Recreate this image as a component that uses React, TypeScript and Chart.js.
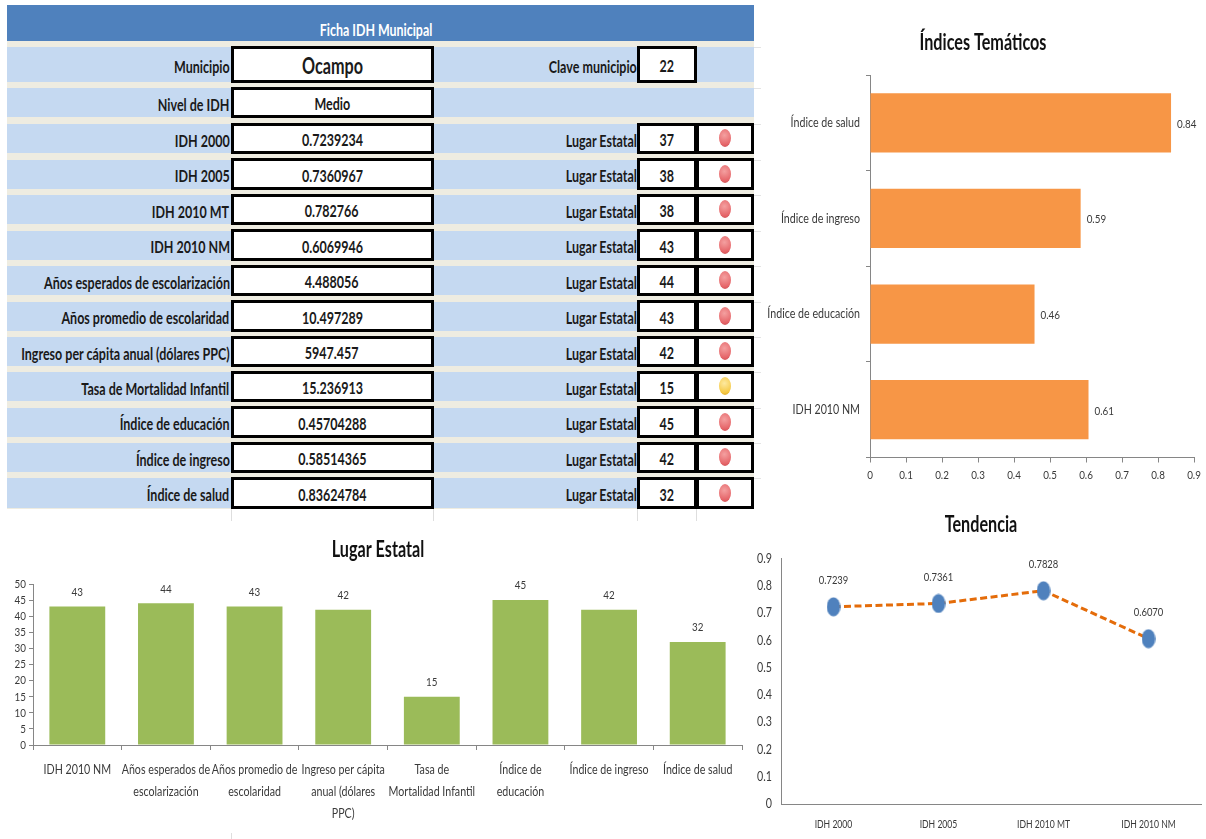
import React, { useEffect, useRef } from "react";
import { Chart, registerables } from "chart.js";

Chart.register(...registerables);

// ---------- data ----------
const tableTitle = "Ficha IDH Municipal";
const rowLabels = [
  "Municipio",
  "Nivel de IDH",
  "IDH 2000",
  "IDH 2005",
  "IDH 2010 MT",
  "IDH 2010 NM",
  "Años esperados de escolarización",
  "Años promedio de escolaridad",
  "Ingreso per cápita anual (dólares PPC)",
  "Tasa de Mortalidad Infantil",
  "Índice de educación",
  "Índice de ingreso",
  "Índice de salud",
];
const rowValues = [
  "Ocampo", "Medio", "0.7239234", "0.7360967", "0.782766", "0.6069946", "4.488056",
  "10.497289", "5947.457", "15.236913", "0.45704288", "0.58514365", "0.83624784",
];
const rowSideLabels = [
  "Clave municipio", "", "Lugar Estatal", "Lugar Estatal", "Lugar Estatal", "Lugar Estatal", "Lugar Estatal",
  "Lugar Estatal", "Lugar Estatal", "Lugar Estatal", "Lugar Estatal", "Lugar Estatal", "Lugar Estatal",
];
const rowRanks = ["22", "", "37", "38", "38", "43", "44", "43", "42", "15", "45", "42", "32"];
const rowLights = ["", "", "red", "red", "red", "red", "red", "red", "red", "yellow", "red", "red", "red"];

const themeCategories = ["Índice de salud", "Índice de ingreso", "Índice de educación", "IDH 2010 NM"];
const themeValues = [0.83624784, 0.58514365, 0.45704288, 0.6069946];

const rankCategories = [
  ["IDH 2010 NM"],
  ["Años esperados de", "escolarización"],
  ["Años promedio de", "escolaridad"],
  ["Ingreso per cápita", "anual (dólares", "PPC)"],
  ["Tasa de", "Mortalidad Infantil"],
  ["Índice de", "educación"],
  ["Índice de ingreso"],
  ["Índice de salud"],
];
const rankValues = [43, 44, 43, 42, 15, 45, 42, 32];

const trendCategories = ["IDH 2000", "IDH 2005", "IDH 2010 MT", "IDH 2010 NM"];
const trendValues = [0.7239234, 0.7360967, 0.782766, 0.6069946];

// ---------- styling ----------
const FONT = 'Lato, "Open Sans", sans-serif';
const AXIS = "#868686";
const TEXT = "#3a3a3a";
const TEXT_SQUEEZE = 0.82;
const TITLE_SQUEEZE = 0.735;
const CELL_SQUEEZE = 0.735;
const rowTops = [47, 88, 124, 159.5, 195, 230.5, 266, 301.5, 337, 372, 407.5, 443, 478];
const rowHeights = [35, 29, 29, 29, 29, 29, 29, 29, 29, 29, 29, 29, 30];

// The reference text is a condensed face; squeeze every string around its own anchor.
const squeezeText = {
  id: "squeezeText",
  beforeInit(chart: any) {
    const ctx = chart.ctx;
    const original = ctx.fillText.bind(ctx);
    ctx.fillText = (text: string, x: number, y: number) => {
      const k = String(ctx.font).includes("bold") || String(ctx.font).includes("700") ? TITLE_SQUEEZE : TEXT_SQUEEZE;
      ctx.save();
      ctx.translate(x, y);
      ctx.scale(k, 1);
      original(text, 0, 0);
      ctx.restore();
    };
  },
};

// Move the title box sideways after layout, so it need not centre on the plot.
function titleShift(dx: number) {
  return {
    id: "titleShift",
    afterLayout(chart: any) {
      if (chart.titleBlock) {
        chart.titleBlock.left += dx;
        chart.titleBlock.right += dx;
      }
    },
  };
}

function valueLabels(format: (v: number) => string, dx: number, dy: number, align: CanvasTextAlign, size: number) {
  return {
    id: "valueLabels",
    afterDatasetsDraw(chart: any) {
      const ctx = chart.ctx;
      const meta = chart.getDatasetMeta(0);
      ctx.save();
      ctx.font = `${size}px ${FONT}`;
      ctx.fillStyle = TEXT;
      ctx.textAlign = align;
      ctx.textBaseline = "middle";
      meta.data.forEach((el: any, i: number) => {
        ctx.fillText(format(chart.data.datasets[0].data[i]), el.x + dx, el.y + dy);
      });
      ctx.restore();
    },
  };
}

function useChart(make: (c: HTMLCanvasElement) => Chart) {
  const ref = useRef<HTMLCanvasElement>(null);
  useEffect(() => {
    const chart = make(ref.current as HTMLCanvasElement);
    return () => chart.destroy();
  }, []);
  return ref;
}

const titleOpts = (text: string, top: number, bottom: number, size = 22) => ({
  display: true,
  text,
  color: "#111111",
  font: { family: FONT, size, weight: "bold" as const, lineHeight: 1.2 },
  padding: { top, bottom },
});

const oneDecimal = (v: any) => String(Number(Number(v).toFixed(1)));

function makeTheme(c: HTMLCanvasElement) {
  return new Chart(c, {
    type: "bar",
    data: {
      labels: themeCategories,
      datasets: [{ data: themeValues, backgroundColor: "#f79646", barPercentage: 0.62, categoryPercentage: 1 }],
    },
    options: {
      indexAxis: "y",
      responsive: false,
      animation: false,
      layout: { autoPadding: false, padding: { right: 40 } },
      plugins: {
        legend: { display: false },
        tooltip: { enabled: false },
        title: titleOpts("Índices Temáticos", 29.5, 19.1),
      },
      scales: {
        x: {
          type: "linear",
          min: 0,
          max: 0.9,
          afterFit: (s: any) => { s.height = 52.5; },
          grid: { drawOnChartArea: false, color: AXIS, tickLength: 5 },
          border: { color: AXIS, width: 1 },
          ticks: {
            stepSize: 0.1,
            color: TEXT,
            padding: 5,
            maxRotation: 0,
            autoSkip: false,
            font: { family: FONT, size: 12 },
            callback: oneDecimal,
          },
        },
        y: {
          afterFit: (s: any) => { s.width = 118; },
          grid: { drawOnChartArea: false, color: AXIS, tickLength: 4, offset: true },
          border: { color: AXIS, width: 1 },
          ticks: { color: TEXT, padding: 6, crossAlign: "near", font: { family: FONT, size: 13 } },
        },
      },
    },
    plugins: [squeezeText, titleShift(10), valueLabels((v) => v.toFixed(2), 6, 1, "left", 12)],
  } as any);
}

function makeRank(c: HTMLCanvasElement) {
  return new Chart(c, {
    type: "bar",
    data: {
      labels: rankCategories as any,
      datasets: [{ data: rankValues, backgroundColor: "#9bbb59", barPercentage: 0.63, categoryPercentage: 1 }],
    },
    options: {
      responsive: false,
      animation: false,
      layout: { autoPadding: false, padding: { right: 28 } },
      plugins: {
        legend: { display: false },
        tooltip: { enabled: false },
        title: titleOpts("Lugar Estatal", 22, 20.6),
      },
      scales: {
        x: {
          afterFit: (s: any) => { s.height = 94; },
          grid: { drawOnChartArea: false, color: AXIS, tickLength: 5, offset: true },
          border: { color: AXIS, width: 1 },
          ticks: {
            color: TEXT,
            padding: 9,
            maxRotation: 0,
            autoSkip: false,
            font: { family: FONT, size: 13, lineHeight: 1.7 },
          },
        },
        y: {
          min: 0,
          max: 50,
          afterFit: (s: any) => { s.width = 33; },
          grid: { drawOnChartArea: false, color: AXIS, tickLength: 4 },
          border: { color: AXIS, width: 1 },
          ticks: { stepSize: 5, color: TEXT, padding: 3, autoSkip: false, font: { family: FONT, size: 12 } },
        },
      },
    },
    plugins: [squeezeText, titleShift(7), valueLabels((v) => String(v), 0, -14.5, "center", 12)],
  } as any);
}

function ellipseMarker() {
  const m = document.createElement("canvas");
  m.width = 14;
  m.height = 20;
  const g = m.getContext("2d") as CanvasRenderingContext2D;
  g.fillStyle = "#4f81bd";
  g.beginPath();
  g.ellipse(7, 10, 6.8, 9.6, 0, 0, Math.PI * 2);
  g.fill();
  return m;
}

function makeTrend(c: HTMLCanvasElement) {
  return new Chart(c, {
    type: "line",
    data: {
      labels: trendCategories,
      datasets: [
        {
          data: trendValues,
          borderColor: "#e46c0a",
          borderWidth: 3,
          borderDash: [7, 3.5],
          tension: 0,
          pointStyle: ellipseMarker() as any,
          pointRadius: 8,
        },
      ],
    },
    options: {
      responsive: false,
      animation: false,
      layout: { autoPadding: false, padding: { right: 10 } },
      plugins: {
        legend: { display: false },
        tooltip: { enabled: false },
        title: titleOpts("Tendencia", 7, 20.4, 22),
      },
      scales: {
        x: {
          offset: true,
          afterFit: (s: any) => { s.height = 35; },
          grid: { drawOnChartArea: false, drawTicks: false, color: AXIS },
          border: { color: AXIS, width: 1 },
          ticks: { color: TEXT, padding: 14, maxRotation: 0, autoSkip: false, font: { family: FONT, size: 10.5 } },
        },
        y: {
          min: 0,
          max: 0.9,
          afterFit: (s: any) => { s.width = 25; },
          grid: { drawOnChartArea: false, drawTicks: false, color: AXIS },
          border: { color: AXIS, width: 1 },
          ticks: {
            stepSize: 0.1,
            color: TEXT,
            padding: 9,
            autoSkip: false,
            font: { family: FONT, size: 13 },
            callback: oneDecimal,
          },
        },
      },
    },
    plugins: [squeezeText, titleShift(2.5), valueLabels((v) => v.toFixed(4), 0, -26, "center", 11.5)],
  } as any);
}

const abs = (x: number, y: number, w: number, h: number): React.CSSProperties => ({
  position: "absolute",
  left: x,
  top: y,
  width: w,
  height: h,
  boxSizing: "border-box",
});

function Squeezed({ children, origin }: { children: React.ReactNode; origin: string }) {
  return (
    <span
      style={{
        display: "inline-block",
        flexShrink: 0,
        whiteSpace: "nowrap",
        transform: `scaleX(${CELL_SQUEEZE})`,
        transformOrigin: origin,
        marginTop: 3,
      }}
    >
      {children}
    </span>
  );
}

function Cell({ x, w, y, h, children, size = 17 }: any) {
  return (
    <div
      style={{
        ...abs(x, y, w, h),
        background: "#fff",
        border: "3px solid #000",
        display: "flex",
        alignItems: "center",
        justifyContent: "center",
        fontSize: size,
        fontWeight: 700,
        color: "#1a1a1a",
      }}
    >
      {children}
    </div>
  );
}

function Light({ color }: { color: string }) {
  const bg =
    color === "red"
      ? "radial-gradient(circle at 45% 35%, #f4a0a0, #e56468 70%, #c24a4e)"
      : "radial-gradient(circle at 45% 35%, #fde9a0, #f5c842 70%, #d09a20)";
  return <div style={{ width: 12, height: 18, borderRadius: "50%", background: bg }} />;
}

function RightLabel({ x, y, w, h, children }: any) {
  return (
    <div
      style={{
        ...abs(x, y, w, h),
        display: "flex",
        alignItems: "center",
        justifyContent: "flex-end",
        fontSize: 17,
        fontWeight: 700,
        color: "#1a1a1a",
      }}
    >
      <Squeezed origin="right center">{children}</Squeezed>
    </div>
  );
}

const ghostColumns = [231, 433, 637, 696];

export default function App() {
  const themeRef = useChart(makeTheme);
  const rankRef = useChart(makeRank);
  const trendRef = useChart(makeTrend);

  return (
    <div
      style={{
        position: "absolute",
        left: 0,
        top: 0,
        width: 1206,
        height: 839,
        background: "#fff",
        overflow: "hidden",
        fontFamily: FONT,
        filter: "blur(0.4px)",
      }}
    >
      <div style={{ ...abs(7, 40, 747, 469), background: "#eeece1" }} />
      <div
        style={{
          ...abs(7, 5, 747, 36),
          background: "#4f81bd",
          color: "#fff",
          fontWeight: 700,
          fontSize: 17,
          paddingTop: 14,
          paddingRight: 9,
          textAlign: "center",
        }}
      >
        <span style={{ display: "inline-block", transform: "scaleX(0.73)" }}>{tableTitle}</span>
      </div>
      {ghostColumns.map((x) => (
        <div key={x} style={{ ...abs(x, 509, 1, 12), background: "#dedede" }} />
      ))}
      <div style={{ ...abs(231, 833, 1, 6), background: "#dedede" }} />
      {rowLabels.map((label, i) => {
        const y = rowTops[i];
        const h = rowHeights[i];
        return (
          <React.Fragment key={label}>
            <div style={{ ...abs(7, y, 747, h), background: "#c5d9f1" }} />
            <div style={{ ...abs(754, y, 7, 1), background: "#e4e4e4" }} />
            <RightLabel x={7} y={y} w={222.5} h={h}>
              {label}
            </RightLabel>
            <Cell x={230.5} w={203} y={y - 1.5} h={h + 2.5} size={i === 0 ? 22 : 17}>
              <Squeezed origin="center">{rowValues[i]}</Squeezed>
            </Cell>
            {rowSideLabels[i] && (
              <RightLabel x={440} y={y} w={196.5} h={h}>
                {rowSideLabels[i]}
              </RightLabel>
            )}
            {rowRanks[i] && (
              <Cell x={637} w={60} y={y - 1.5} h={h + 2.5}>
                <Squeezed origin="center">{rowRanks[i]}</Squeezed>
              </Cell>
            )}
            {rowLights[i] && (
              <Cell x={695.5} w={58.5} y={y - 1.5} h={h + 2.5}>
                <Light color={rowLights[i]} />
              </Cell>
            )}
          </React.Fragment>
        );
      })}
      <canvas ref={themeRef} width={482} height={510} style={{ position: "absolute", left: 752, top: 0 }} />
      <canvas ref={rankRef} width={770} height={324} style={{ position: "absolute", left: 0, top: 515 }} />
      <canvas ref={trendRef} width={455} height={334} style={{ position: "absolute", left: 756, top: 505 }} />
    </div>
  );
}
